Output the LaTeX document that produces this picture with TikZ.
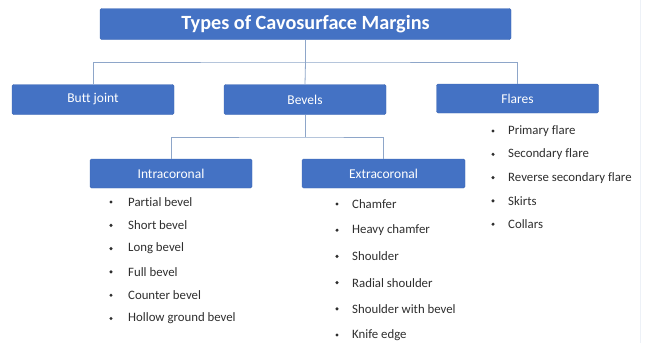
\documentclass[tikz,border=0pt]{standalone}
\usepackage{fontspec}
\setmainfont[Ligatures=NoCommon]{Carlito}
\definecolor{boxblue}{HTML}{4472C4}
\definecolor{boxedge}{HTML}{3F68B5}
\definecolor{linkc}{HTML}{8EA6C9}
\definecolor{itemc}{HTML}{2E2E2E}
\definecolor{edgec}{HTML}{EDF1F7}
\begin{document}
\begin{tikzpicture}[x=1pt,y=-1pt,
  catbox/.style={draw=boxedge,fill=boxblue,rounded corners=1.5pt,text=white,font=\fontsize{13.5}{15}\selectfont,inner sep=0pt},
  titlebox/.style={catbox,font=\fontsize{20.2}{24}\selectfont\bfseries},
  link/.style={draw=linkc,line width=0.8pt},
  item/.style={anchor=west,text=itemc,font=\fontsize{12.8}{14}\selectfont,inner sep=0pt},
  dot/.style={circle,fill=itemc,inner sep=0pt,minimum size=3.4pt}]
\useasboundingbox (0,0) rectangle (647,343);
\fill[white] (0,0) rectangle (647,343);
\draw[edgec,line width=1pt] (640,0) -- (640,343);
% boxes
\node[titlebox,minimum width=411pt,minimum height=31pt] (title) at (305.5,24) {Types of Cavosurface Margins};
\node[catbox,minimum width=162pt,minimum height=30pt] (butt) at (93,99.5) {Butt joint};
\node[catbox,minimum width=162pt,minimum height=30pt] (bevels) at (305,99.5) {Bevels};
\node[catbox,minimum width=162pt,minimum height=29pt] (flares) at (517.5,98.5) {Flares};
\node[catbox,minimum width=162pt,minimum height=29pt] (intra) at (171,173.5) {Intracoronal};
\node[catbox,minimum width=163pt,minimum height=29pt] (extra) at (383.5,173.5) {Extracoronal};
% connectors
\coordinate (j1) at (305.5,62);
\coordinate (j2) at (305,137);
\draw[link] (title.south) -- (j1);
\draw[link] (butt.north) |- (j1) -| (flares.north);
\draw[link] (j1) -- (bevels.north);
\draw[link] (bevels.south) -- (j2);
\draw[link] (intra.north) |- (j2) -| (extra.north);
% intracoronal items
\foreach \t [count=\i] in {Partial bevel,Short bevel,Long bevel,Full bevel,Counter bevel,Hollow ground bevel}{
  \node[dot] (ib\i) at (111,{202+(\i-1)*23.3}) {};
  \node[item] (it\i) at (128,{202+(\i-1)*23.3}) {\t};
}
% extracoronal items
\foreach \t [count=\i] in {Chamfer,Heavy chamfer,Shoulder,Radial shoulder,Shoulder with bevel,Knife edge}{
  \node[dot] (eb\i) at (337,{204+(\i-1)*26.2}) {};
  \node[item] (et\i) at (352,{204+(\i-1)*26.2}) {\t};
}
% flares items
\foreach \t [count=\i] in {Primary flare,Secondary flare,Reverse secondary flare,Skirts,Collars}{
  \node[dot] (fb\i) at (493,{131+(\i-1)*23.3}) {};
  \node[item] (ft\i) at (508,{131+(\i-1)*23.3}) {\t};
}
\end{tikzpicture}
\end{document}
